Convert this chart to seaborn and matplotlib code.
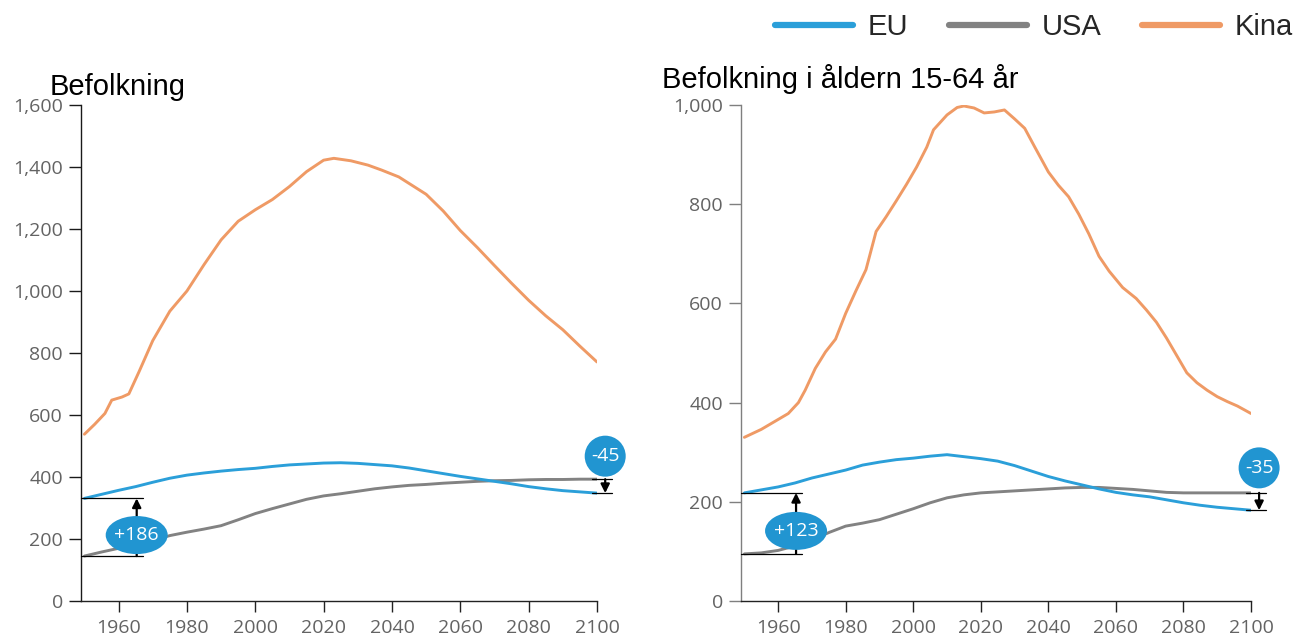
import matplotlib
matplotlib.use("Agg")
import matplotlib.pyplot as plt
import matplotlib.transforms as mtransforms
from matplotlib.patches import Ellipse
from matplotlib.lines import Line2D
from matplotlib.ticker import FuncFormatter
import pandas as pd
import seaborn as sns

# ---------------- data (millions) ----------------
years = list(range(1950, 2101, 5))

# Total population
eu_total = [331, 344, 357, 369, 383, 396, 406, 413, 419, 424, 428, 434, 439, 442, 445, 446,
            444, 440, 436, 429, 420, 411, 402, 394, 386, 378, 369, 362, 356, 352, 348]
usa_total = [145, 158, 170, 181, 196, 211, 222, 232, 243, 262, 282, 298, 313, 328, 339, 346,
             354, 362, 368, 373, 376, 380, 383, 386, 388, 389, 391, 392, 392, 393, 393]
china_total_years = [1950, 1953, 1956, 1958, 1961, 1963, 1966, 1970, 1975, 1980, 1985, 1990,
                     1995, 2000, 2005, 2010, 2015, 2020, 2023, 2028, 2033, 2037, 2042, 2046,
                     2050, 2055, 2060, 2065, 2070, 2075, 2080, 2085, 2090, 2095, 2100]
china_total = [538, 570, 605, 648, 658, 668, 740, 840, 935, 1000, 1085, 1165,
               1225, 1262, 1295, 1337, 1385, 1422, 1428, 1420, 1406, 1390, 1368, 1340,
               1312, 1258, 1195, 1140, 1082, 1025, 970, 920, 875, 822, 771]

# Working-age population (15-64)
eu_work = [218, 224, 230, 238, 248, 256, 264, 274, 280, 285, 288, 292, 295, 291, 287, 282,
           273, 262, 251, 242, 234, 226, 219, 214, 210, 204, 198, 193, 189, 186, 183]
usa_work = [95, 97, 102, 111, 123, 138, 151, 157, 164, 175, 186, 198, 208, 214, 218, 220,
            222, 224, 226, 228, 229, 229, 227, 225, 222, 219, 218, 218, 218, 218, 218]
china_work_years = [1950, 1955, 1960, 1963, 1966, 1968, 1971, 1974, 1977, 1980, 1983, 1986,
                    1989, 1992, 1995, 1998, 2001, 2004, 2006, 2010, 2013, 2015, 2018, 2021,
                    2024, 2027, 2030, 2033, 2036, 2040, 2043, 2046, 2049, 2052, 2055, 2058,
                    2062, 2066, 2069, 2072, 2075, 2078, 2081, 2084, 2087, 2090, 2093, 2096, 2100]
china_work = [330, 346, 366, 378, 400, 425, 469, 502, 528, 580, 625, 668,
              745, 775, 807, 840, 875, 915, 950, 980, 995, 998, 994, 984,
              986, 990, 972, 953, 915, 865, 838, 815, 780, 740, 695, 665,
              632, 610, 587, 562, 530, 495, 460, 440, 425, 412, 402, 393, 378]

series_names = ["EU", "USA", "Kina"]
palette = {"EU": "#2b9fd9", "USA": "#828282", "Kina": "#ef9a65"}
badge_color = "#2195d1"

titles = ["Befolkning", "Befolkning i åldern 15-64 år"]
y_limits = [(0, 1600), (0, 1000)]
y_ticks = [list(range(0, 1601, 200)), list(range(0, 1001, 200))]
x_ticks = list(range(1960, 2101, 20))


def long_frame(eu, usa, china_years, china):
    parts = [
        pd.DataFrame({"year": years, "value": eu, "series": "EU"}),
        pd.DataFrame({"year": years, "value": usa, "series": "USA"}),
        pd.DataFrame({"year": china_years, "value": china, "series": "Kina"}),
    ]
    return pd.concat(parts, ignore_index=True)


frames = [long_frame(eu_total, usa_total, china_total_years, china_total),
          long_frame(eu_work, usa_work, china_work_years, china_work)]
eu_lists = [eu_total, eu_work]
usa_lists = [usa_total, usa_work]

sns.set_theme(style="ticks")
plt.rcParams["font.family"] = ["Liberation Sans", "DejaVu Sans"]

W, H = 1305, 640
fig = plt.figure(figsize=(W / 100, H / 100), dpi=100)

axes_px = [(81, 597), (741, 1251)]
top_px, bot_px = 105, 601
spine_colors = ["#1a1a1a", "#7f7f7f"]
title_pos = [(50, 95), (662, 88)]
badge_offsets = [(0.21, 0.23), (0.23, 0.25)]  # inches above the USA level


def badge(ax, x, y, dy_in, w_in, h_in, text):
    trans = fig.dpi_scale_trans + mtransforms.ScaledTranslation(x, y, ax.transData)
    ax.add_patch(Ellipse((0, dy_in), w_in, h_in, transform=trans, facecolor=badge_color,
                         edgecolor="none", clip_on=False, zorder=6))
    ax.text(0, dy_in, text, transform=trans, ha="center", va="center", color="white",
            fontsize=14, family=["Open Sans", "DejaVu Sans"], zorder=7, clip_on=False)


def bracket(ax, x0, x1, x_arrow, y_from, y_to):
    for yv in (y_from, y_to):
        ax.plot([x0, x1], [yv, yv], color="black", lw=0.9, clip_on=False, zorder=4)
    ax.annotate("", xy=(x_arrow, y_to), xytext=(x_arrow, y_from),
                arrowprops=dict(arrowstyle="-|>", color="black", lw=1.6,
                                mutation_scale=13, shrinkA=0, shrinkB=0),
                annotation_clip=False, zorder=5)


for i in range(2):
    l, r = axes_px[i]
    ax = fig.add_axes([l / W, 1 - bot_px / H, (r - l) / W, (bot_px - top_px) / H])
    sns.lineplot(data=frames[i], x="year", y="value", hue="series",
                 hue_order=["Kina", "USA", "EU"], palette=palette, linewidth=2.1,
                 legend=False, ax=ax, zorder=3)
    ax.set_xlim(1949, 2100)
    ax.set_ylim(*y_limits[i])
    ax.set_xticks(x_ticks)
    ax.set_yticks(y_ticks[i])
    ax.yaxis.set_major_formatter(FuncFormatter(lambda v, p: f"{v:,.0f}"))
    ax.set_xlabel("")
    ax.set_ylabel("")
    sns.despine(ax=ax)
    ax.spines["left"].set_color(spine_colors[i])
    ax.spines["bottom"].set_color("#222222")
    for s in ("left", "bottom"):
        ax.spines[s].set_linewidth(1.0)
    ax.tick_params(axis="y", direction="out", length=9, width=1.0, pad=4,
                   color=spine_colors[i], labelsize=14, labelcolor="#636363")
    ax.tick_params(axis="x", direction="out", length=8, width=1.0, pad=5,
                   color="#222222", labelsize=14, labelcolor="#636363")
    for lab in ax.get_xticklabels() + ax.get_yticklabels():
        lab.set_family(["Open Sans", "DejaVu Sans"])

    fig.text(title_pos[i][0] / W, 1 - title_pos[i][1] / H, titles[i], fontsize=21,
             color="black", va="baseline", ha="left")

    eu, usa = eu_lists[i], usa_lists[i]
    # gap at the start of the period
    bracket(ax, 1949, 1967, 1965.3, usa[0], eu[0])
    start_diff = eu[0] - usa[0]
    badge(ax, 1965.3, usa[0], badge_offsets[i][0], 0.62, 0.38, f"{start_diff:+d}")
    # gap at the end of the period
    bracket(ax, 2098.5, 2104.5, 2102.4, usa[-1], eu[-1])
    end_diff = eu[-1] - usa[-1]
    badge(ax, 2102.4, usa[-1], badge_offsets[i][1], 0.41, 0.41, f"{end_diff:+d}")

handles = [Line2D([0], [0], color=palette[n], lw=4.5, solid_capstyle="round")
           for n in series_names]
fig.legend(handles, series_names, loc="center left", bbox_to_anchor=(775 / W, 1 - 27 / H),
           ncol=3, frameon=False, fontsize=21, handlelength=2.67, handletextpad=0.5,
           columnspacing=1.4, borderpad=0, borderaxespad=0)

fig.savefig("out.png", dpi=100)
